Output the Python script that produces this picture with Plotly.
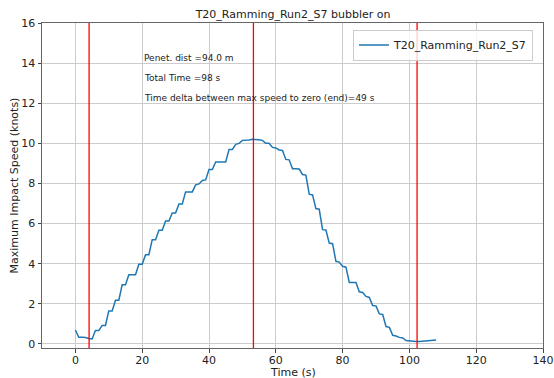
import plotly.graph_objects as go

time_s = list(range(0, 109))
speed_knots = [
    0.70, 0.33, 0.33, 0.32, 0.27, 0.25, 0.67, 0.67, 0.92, 0.92,
    1.65, 1.65, 2.18, 2.18, 2.95, 2.95, 3.45, 3.45, 3.45, 3.97,
    3.97, 4.45, 4.45, 5.20, 5.20, 5.67, 5.67, 6.13, 6.13, 6.53,
    6.53, 6.98, 6.98, 7.58, 7.58, 7.58, 7.93, 7.98, 8.15, 8.18,
    8.70, 8.70, 9.07, 9.07, 9.07, 9.07, 9.70, 9.70, 9.95, 10.00,
    10.15, 10.15, 10.17, 10.20, 10.20, 10.18, 10.15, 10.00, 10.00, 9.80,
    9.77, 9.67, 9.65, 9.20, 9.18, 8.73, 8.73, 8.72, 8.45, 8.42,
    7.47, 7.43, 6.75, 6.72, 5.70, 5.68, 5.03, 5.00, 4.12, 4.08,
    3.87, 3.83, 3.07, 3.07, 3.07, 2.60, 2.57, 2.37, 2.32, 1.92,
    1.90, 1.50, 1.47, 0.87, 0.83, 0.43, 0.40, 0.33, 0.30, 0.17,
    0.15, 0.14, 0.13, 0.13, 0.14, 0.15, 0.16, 0.17, 0.20,
]
series_name = "T20_Ramming_Run2_S7"
title_text = "T20_Ramming_Run2_S7 bubbler on"
x_title = "Time (s)"
y_title = "Maximum Impact Speed (knots)"
event_times = [4.1, 53.3, 102.3]
note_texts = [
    "Penet. dist =94.0 m",
    "Total Time =98 s",
    "Time delta between max speed to zero (end)=49 s",
]
note_x = 20
note_y = [14, 13, 12]
x_ticks = [0, 20, 40, 60, 80, 100, 120, 140]
y_ticks = [0, 2, 4, 6, 8, 10, 12, 14, 16]

FONT = "DejaVu Sans"
W, H = 554, 378
ML, MR, MT, MB = 42, 11, 23, 30

fig = go.Figure()
fig.add_trace(go.Scatter(
    x=time_s, y=speed_knots, mode="lines", name=series_name,
    line=dict(color="#1f77b4", width=1.5), hoverinfo="skip",
))

for t in event_times:
    fig.add_shape(type="line", xref="x", yref="paper", x0=t, x1=t, y0=0, y1=1,
                  line=dict(color="red", width=1.3), layer="above")

for txt, yy in zip(note_texts, note_y):
    fig.add_annotation(x=note_x, y=yy, xref="x", yref="y", text=txt,
                       showarrow=False, xanchor="left", yanchor="bottom",
                       yshift=-2, font=dict(family=FONT, size=9, color="#222"))

# axis titles placed as paper annotations for exact positioning
pw = W - ML - MR
ph = H - MT - MB
fig.add_annotation(x=0.5, y=-(372 - (H - MB)) / ph, xref="paper", yref="paper",
                   text=x_title, showarrow=False, xanchor="center", yanchor="middle",
                   font=dict(family=FONT, size=11, color="#222"))
fig.add_annotation(x=-(ML - 14) / pw, y=0.5, xref="paper", yref="paper",
                   text=y_title, showarrow=False, xanchor="center", yanchor="middle",
                   textangle=-90, font=dict(family=FONT, size=11, color="#222"))

axis_common = dict(
    showgrid=True, gridcolor="#cccccc", gridwidth=1,
    showline=True, linecolor="#666666", linewidth=1, mirror=True,
    ticks="outside", ticklen=3.5, tickcolor="#444444", tickwidth=1,
    zeroline=False, automargin=False,
    tickfont=dict(family=FONT, size=11, color="#222"),
)

fig.update_layout(
    width=W, height=H,
    margin=dict(l=ML, r=MR, t=MT, b=MB),
    paper_bgcolor="white", plot_bgcolor="white",
    hovermode=False,
    title=dict(text=title_text, x=0.529, xanchor="center", y=1 - 14.5 / H,
               yanchor="middle", yref="container",
               font=dict(family=FONT, size=11, color="#222")),
    xaxis=dict(range=[-10, 140], tickvals=x_ticks, ticklabelstandoff=-2,
               **axis_common),
    yaxis=dict(range=[-0.2, 16], tickvals=y_ticks, **axis_common),
    showlegend=True,
    legend=dict(x=0.98, xanchor="right", y=0.98, yanchor="top",
                bgcolor="rgba(255,255,255,0.8)", bordercolor="#cccccc",
                borderwidth=1, itemwidth=30,
                font=dict(family=FONT, size=11, color="#222")),
)

fig.write_html("out.html", config={"displayModeBar": False},
               post_script="document.body.style.margin='0';document.body.style.overflow='hidden';")
